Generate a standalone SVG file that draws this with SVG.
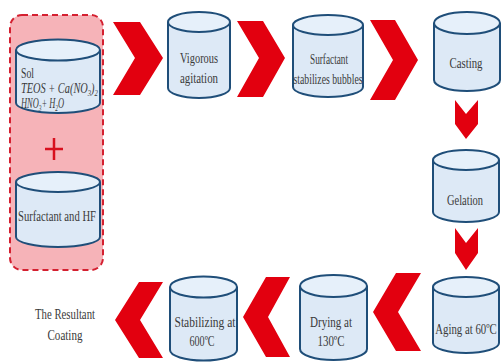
<svg xmlns="http://www.w3.org/2000/svg" width="501" height="362" viewBox="0 0 501 362">
<defs>
<style>
.cyl{fill:#dde9f6;stroke:#1f4e79;stroke-width:2}
.top{fill:#e6f0fa;stroke:#1f4e79;stroke-width:2}
.chev{fill:#e2000f}
.t{font-family:"Liberation Serif","Times New Roman",serif;font-size:15px;fill:#3a3a3a;text-anchor:middle}
.ti{font-family:"Liberation Serif","Times New Roman",serif;font-size:14px;font-style:italic;fill:#3a3a3a}
.sub{font-size:9px}
</style>
</defs>
<rect width="501" height="362" fill="#ffffff"/>
<g id="group-box">
<rect x="10" y="15" width="93" height="255" rx="12" ry="12" fill="#f6b3b8" stroke="#d42030" stroke-width="2" stroke-dasharray="6 4"/>
<path d="M54 138 V160 M45 149 H63" stroke="#d8101e" stroke-width="2.5" fill="none"/>
</g>
<g id="sol">
<path class="cyl" d="M16 50 V103 A42 10 0 0 0 100 103 V50"/>
<ellipse class="top" cx="58" cy="50" rx="42" ry="10.5"/>
<text class="ti" x="21" y="78" style="font-style:normal" textLength="13" lengthAdjust="spacingAndGlyphs">Sol</text>
<text class="ti" transform="translate(21 93) scale(0.74 1)">TEOS + Ca(NO<tspan class="sub" dy="3">3</tspan><tspan dy="-3">)</tspan><tspan class="sub" dy="3">2</tspan></text>
<text class="ti" transform="translate(21 108) scale(0.6 1)">HNO<tspan class="sub" dy="3">3</tspan><tspan dy="-3">+ H</tspan><tspan class="sub" dy="3">2</tspan><tspan dy="-3">O</tspan></text>
</g>
<g id="surfactant-hf">
<path class="cyl" d="M16 182 V237 A42 10 0 0 0 100 237 V182"/>
<ellipse class="top" cx="58" cy="182" rx="42" ry="10"/>
<text class="t" x="57" y="221" textLength="78" lengthAdjust="spacingAndGlyphs">Surfactant and HF</text>
</g>
<g id="vigorous">
<path class="cyl" d="M168 22 V88 A31 10 0 0 0 230 88 V22"/>
<ellipse class="top" cx="199" cy="22" rx="31" ry="10"/>
<text class="t" x="199" y="63" textLength="38" lengthAdjust="spacingAndGlyphs">Vigorous</text>
<text class="t" x="199" y="83" textLength="38" lengthAdjust="spacingAndGlyphs">agitation</text>
</g>
<g id="surfactant-bubbles">
<path class="cyl" d="M293 25 V87 A35 10 0 0 0 363 87 V25"/>
<ellipse class="top" cx="328" cy="25" rx="35" ry="10"/>
<text class="t" x="329" y="64" textLength="38" lengthAdjust="spacingAndGlyphs">Surfactant</text>
<text class="t" x="328" y="84" textLength="69" lengthAdjust="spacingAndGlyphs">stabilizes bubbles</text>
</g>
<g id="casting">
<path class="cyl" d="M434 23 V80 A33 11 0 0 0 500 80 V23"/>
<ellipse class="top" cx="467" cy="23" rx="33" ry="11"/>
<text class="t" x="466" y="68" textLength="33" lengthAdjust="spacingAndGlyphs">Casting</text>
</g>
<g id="gelation">
<path class="cyl" d="M433 160 V212 A33 10 0 0 0 499 212 V160"/>
<ellipse class="top" cx="466" cy="160" rx="33" ry="10"/>
<text class="t" x="465" y="205" textLength="36" lengthAdjust="spacingAndGlyphs">Gelation</text>
</g>
<g id="aging">
<path class="cyl" d="M433 287 V343 A33 10 0 0 0 499 343 V287"/>
<ellipse class="top" cx="466" cy="287" rx="33" ry="10"/>
<text class="t" transform="translate(466 334) scale(0.72 1)">Aging at 60ºC</text>
</g>
<g id="drying">
<path class="cyl" d="M300 286 V349 A33.5 11 0 0 0 367 349 V286"/>
<ellipse class="top" cx="333.5" cy="286" rx="33.5" ry="11"/>
<text class="t" x="331" y="327" textLength="42" lengthAdjust="spacingAndGlyphs">Drying at</text>
<text class="t" x="331" y="346" textLength="27" lengthAdjust="spacingAndGlyphs">130ºC</text>
</g>
<g id="stabilizing">
<path class="cyl" d="M170 287 V350 A33.5 10.5 0 0 0 237 350 V287"/>
<ellipse class="top" cx="203.5" cy="287" rx="33.5" ry="10.5"/>
<text class="t" x="205" y="327" textLength="61" lengthAdjust="spacingAndGlyphs">Stabilizing at</text>
<text class="t" x="202" y="346" textLength="25" lengthAdjust="spacingAndGlyphs">600ºC</text>
</g>
<g id="resultant">
<text class="t" x="65" y="319" textLength="60" lengthAdjust="spacingAndGlyphs">The Resultant</text>
<text class="t" x="65" y="340" textLength="35" lengthAdjust="spacingAndGlyphs">Coating</text>
</g>
<g id="connectors">
<polygon class="chev" points="113,22 140,22 163,58 140,95 113,95 135,58"/>
<polygon class="chev" points="237,21 263,21 285,58 263,97 237,97 259,58"/>
<polygon class="chev" points="370,20 395,20 418,60 395,100 370,100 393,60"/>
<polygon class="chev" points="455,100 466,114 478,100 478,124 466,139 455,124"/>
<polygon class="chev" points="455,228 466,243 478,228 478,253 466,270 455,253"/>
<polygon class="chev" points="421,273 396,273 373,312 396,351 421,351 398,312"/>
<polygon class="chev" points="290,277 266,277 243,317 266,357 290,357 268,317"/>
<polygon class="chev" points="163,282 139,282 115,320 139,358 163,358 140,320"/>
</g>
</svg>
